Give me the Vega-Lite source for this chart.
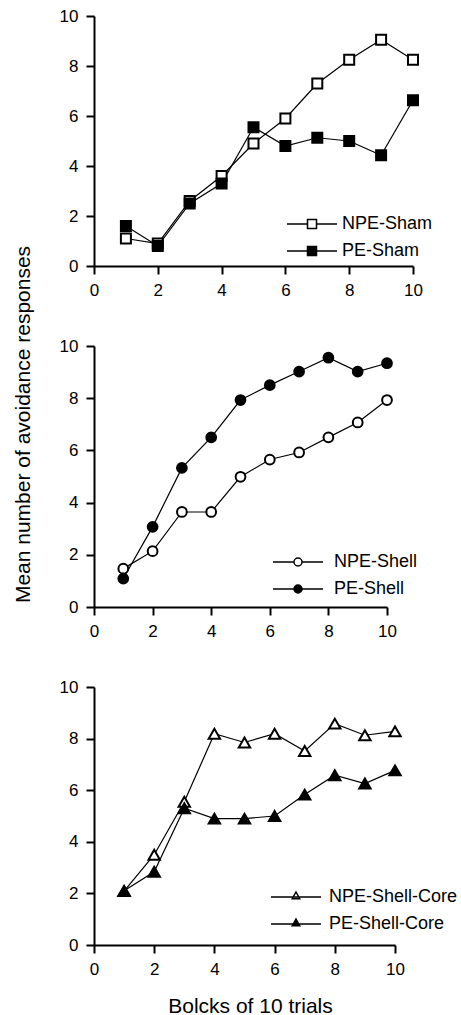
{
  "$schema": "https://vega.github.io/schema/vega-lite/v6.json",
  "padding": {"left": 11, "top": 7, "right": 0, "bottom": 0},
  "background": "white",
  "datasets": {
    "sham": [
      {"series": "NPE-Sham", "block": 1, "value": 1.1},
      {"series": "NPE-Sham", "block": 2, "value": 0.9},
      {"series": "NPE-Sham", "block": 3, "value": 2.6},
      {"series": "NPE-Sham", "block": 4, "value": 3.6},
      {"series": "NPE-Sham", "block": 5, "value": 4.9},
      {"series": "NPE-Sham", "block": 6, "value": 5.9},
      {"series": "NPE-Sham", "block": 7, "value": 7.3},
      {"series": "NPE-Sham", "block": 8, "value": 8.25},
      {"series": "NPE-Sham", "block": 9, "value": 9.05},
      {"series": "NPE-Sham", "block": 10, "value": 8.25},
      {"series": "PE-Sham", "block": 1, "value": 1.6},
      {"series": "PE-Sham", "block": 2, "value": 0.8},
      {"series": "PE-Sham", "block": 3, "value": 2.5},
      {"series": "PE-Sham", "block": 4, "value": 3.3},
      {"series": "PE-Sham", "block": 5, "value": 5.55},
      {"series": "PE-Sham", "block": 6, "value": 4.8},
      {"series": "PE-Sham", "block": 7, "value": 5.13},
      {"series": "PE-Sham", "block": 8, "value": 5.0},
      {"series": "PE-Sham", "block": 9, "value": 4.43},
      {"series": "PE-Sham", "block": 10, "value": 6.63}
    ],
    "shell": [
      {"series": "NPE-Shell", "block": 1, "value": 1.47},
      {"series": "NPE-Shell", "block": 2, "value": 2.14},
      {"series": "NPE-Shell", "block": 3, "value": 3.64},
      {"series": "NPE-Shell", "block": 4, "value": 3.64},
      {"series": "NPE-Shell", "block": 5, "value": 4.99},
      {"series": "NPE-Shell", "block": 6, "value": 5.65},
      {"series": "NPE-Shell", "block": 7, "value": 5.92},
      {"series": "NPE-Shell", "block": 8, "value": 6.5},
      {"series": "NPE-Shell", "block": 9, "value": 7.07},
      {"series": "NPE-Shell", "block": 10, "value": 7.93},
      {"series": "PE-Shell", "block": 1, "value": 1.09},
      {"series": "PE-Shell", "block": 2, "value": 3.07},
      {"series": "PE-Shell", "block": 3, "value": 5.33},
      {"series": "PE-Shell", "block": 4, "value": 6.5},
      {"series": "PE-Shell", "block": 5, "value": 7.93},
      {"series": "PE-Shell", "block": 6, "value": 8.5},
      {"series": "PE-Shell", "block": 7, "value": 9.02},
      {"series": "PE-Shell", "block": 8, "value": 9.55},
      {"series": "PE-Shell", "block": 9, "value": 9.02},
      {"series": "PE-Shell", "block": 10, "value": 9.34}
    ],
    "core": [
      {"series": "NPE-Shell-Core", "block": 1, "value": 2.09},
      {"series": "NPE-Shell-Core", "block": 2, "value": 3.5},
      {"series": "NPE-Shell-Core", "block": 3, "value": 5.55},
      {"series": "NPE-Shell-Core", "block": 4, "value": 8.19},
      {"series": "NPE-Shell-Core", "block": 5, "value": 7.85},
      {"series": "NPE-Shell-Core", "block": 6, "value": 8.19},
      {"series": "NPE-Shell-Core", "block": 7, "value": 7.52},
      {"series": "NPE-Shell-Core", "block": 8, "value": 8.58},
      {"series": "NPE-Shell-Core", "block": 9, "value": 8.13},
      {"series": "NPE-Shell-Core", "block": 10, "value": 8.28},
      {"series": "PE-Shell-Core", "block": 1, "value": 2.1},
      {"series": "PE-Shell-Core", "block": 2, "value": 2.84},
      {"series": "PE-Shell-Core", "block": 3, "value": 5.3},
      {"series": "PE-Shell-Core", "block": 4, "value": 4.9},
      {"series": "PE-Shell-Core", "block": 5, "value": 4.9},
      {"series": "PE-Shell-Core", "block": 6, "value": 5.0},
      {"series": "PE-Shell-Core", "block": 7, "value": 5.83},
      {"series": "PE-Shell-Core", "block": 8, "value": 6.58},
      {"series": "PE-Shell-Core", "block": 9, "value": 6.26},
      {"series": "PE-Shell-Core", "block": 10, "value": 6.77}
    ]
  },
  "vconcat": [
    {
      "width": 319,
      "height": 250,
      "data": {"name": "sham"},
      "layer": [
        {
          "mark": {"type": "line", "color": "black", "strokeWidth": 1.2},
          "encoding": {
            "x": {"field": "block", "type": "quantitative", "scale": {"domain": [0, 10], "nice": false}, "axis": {"values": [0, 2, 4, 6, 8, 10], "title": null}},
            "y": {"field": "value", "type": "quantitative", "scale": {"domain": [0, 10], "nice": false}, "axis": {"values": [0, 2, 4, 6, 8, 10], "title": null}},
            "detail": {"field": "series"}
          }
        },
        {
          "mark": {"type": "point", "shape": "square", "filled": true, "stroke": "black", "strokeWidth": 2, "size": 100, "opacity": 1},
          "encoding": {
            "x": {"field": "block", "type": "quantitative"},
            "y": {"field": "value", "type": "quantitative"},
            "fill": {
              "field": "series", "type": "nominal",
              "scale": {"domain": ["NPE-Sham", "PE-Sham"], "range": ["white", "black"]},
              "legend": {"orient": "none", "legendX": 209, "legendY": 199, "symbolType": "M-5,0H-0.9M0.9,0H5M-0.9,-0.9H0.9V0.9H-0.9Z", "labelOffset": 21}
            }
          }
        }
      ]
    },
    {
      "width": 293,
      "height": 261,
      "data": {"name": "shell"},
      "layer": [
        {
          "mark": {"type": "line", "color": "black", "strokeWidth": 1.2},
          "encoding": {
            "x": {"field": "block", "type": "quantitative", "scale": {"domain": [0, 10], "nice": false}, "axis": {"values": [0, 2, 4, 6, 8, 10], "title": null}},
            "y": {"field": "value", "type": "quantitative", "scale": {"domain": [0, 10], "nice": false}, "axis": {"values": [0, 2, 4, 6, 8, 10], "title": "Mean number of avoidance responses", "titleX": -71, "titleY": 78, "titleAngle": 270, "titleAlign": "center", "titleBaseline": "middle"}},
            "detail": {"field": "series"}
          }
        },
        {
          "mark": {"type": "point", "shape": "circle", "filled": true, "stroke": "black", "strokeWidth": 2, "size": 95, "opacity": 1},
          "encoding": {
            "x": {"field": "block", "type": "quantitative"},
            "y": {"field": "value", "type": "quantitative"},
            "fill": {
              "field": "series", "type": "nominal",
              "scale": {"domain": ["NPE-Shell", "PE-Shell"], "range": ["white", "black"]},
              "legend": {"orient": "none", "legendX": 195, "legendY": 207, "symbolType": "M-5,0H-0.8M0.8,0A0.8,0.8,0,1,1,-0.8,0A0.8,0.8,0,1,1,0.8,0M0.8,0H5", "labelOffset": 27}
            }
          }
        }
      ]
    },
    {
      "width": 301,
      "height": 258,
      "data": {"name": "core"},
      "layer": [
        {
          "mark": {"type": "line", "color": "black", "strokeWidth": 1.2},
          "encoding": {
            "x": {"field": "block", "type": "quantitative", "scale": {"domain": [0, 10], "nice": false}, "axis": {"values": [0, 2, 4, 6, 8, 10], "title": "Bolcks of 10 trials", "titleX": 156, "titleY": 67, "titleAlign": "center", "titleBaseline": "alphabetic"}},
            "y": {"field": "value", "type": "quantitative", "scale": {"domain": [0, 10], "nice": false}, "axis": {"values": [0, 2, 4, 6, 8, 10], "title": null}},
            "detail": {"field": "series"}
          }
        },
        {
          "mark": {"type": "point", "shape": "triangle-up", "filled": true, "stroke": "black", "strokeWidth": 2, "size": 130, "opacity": 1},
          "encoding": {
            "x": {"field": "block", "type": "quantitative"},
            "y": {"field": "value", "type": "quantitative"},
            "fill": {
              "field": "series", "type": "nominal",
              "scale": {"domain": ["NPE-Shell-Core", "PE-Shell-Core"], "range": ["white", "black"]},
              "legend": {"orient": "none", "legendX": 193, "legendY": 201, "symbolType": "M-5,0H5M0,-1L0.75,0.35H-0.75Z", "labelOffset": 24}
            }
          }
        }
      ]
    }
  ],
  "resolve": {"scale": {"fill": "independent", "x": "independent", "y": "independent"}, "legend": {"fill": "independent"}},
  "spacing": 80,
  "bounds": "flush",
  "config": {
    "font": "Liberation Sans",
    "view": {"stroke": null},
    "axis": {
      "domainColor": "black", "domainWidth": 2, "tickColor": "black", "tickWidth": 2, "tickSize": 8,
      "labelFont": "Liberation Sans", "labelFontSize": 17, "labelColor": "black", "labelPadding": 8, "labelFlush": false,
      "grid": false, "titleFont": "Liberation Sans", "titleFontSize": 21, "titleFontWeight": "normal", "titleColor": "black"
    },
    "legend": {
      "title": null, "padding": 0, "symbolSize": 100, "symbolStrokeColor": "black", "symbolStrokeWidth": 1.5,
      "labelFont": "Liberation Sans", "labelFontSize": 18, "labelColor": "black", "rowPadding": 9, "labelLimit": 300
    }
  }
}
